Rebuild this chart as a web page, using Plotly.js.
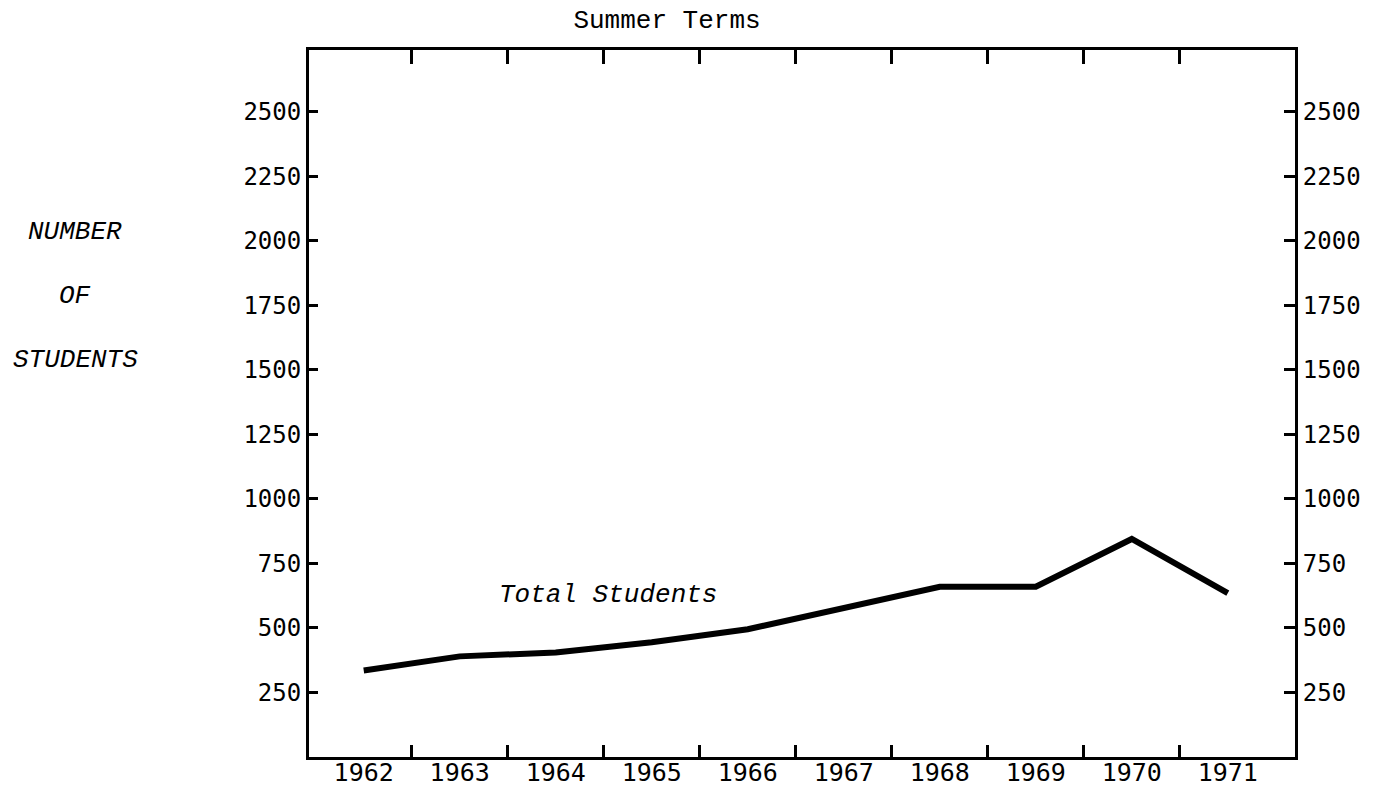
<!DOCTYPE html>
<html>
<head>
<meta charset="utf-8">
<script src="https://cdn.plot.ly/plotly-3.0.1.min.js"></script>
<style>
html,body{margin:0;padding:0;background:#fff;}
#chart{width:1377px;height:791px;}
</style>
</head>
<body>
<div id="chart"></div>
<script>
// ---- data ----
const years = [1962, 1963, 1964, 1965, 1966, 1967, 1968, 1969, 1970, 1971];
const totalStudents = [335, 390, 405, 445, 495, 575, 660, 660, 845, 635];
const yearLabels = ['1962', '1963', '1964', '1965', '1966', '1967', '1968', '1969', '1970', '1971'];
const boundaryTicks = [1962.5, 1963.5, 1964.5, 1965.5, 1966.5, 1967.5, 1968.5, 1969.5, 1970.5];
const yTickVals = [250, 500, 750, 1000, 1250, 1500, 1750, 2000, 2250, 2500];
const yTickText = ['250', '500', '750', '1000', '1250', '1500', '1750', '2000', '2250', '2500'];
const chartTitle = 'Summer Terms';
const yTitleLines = ['NUMBER', 'OF', 'STUDENTS'];
const seriesLabel = 'Total Students';

// ---- styling ----
const xRange = [1961.43, 1971.70];
const yRange = [0, 2740];
const tickFontNum = {family: 'DejaVu Sans Mono', size: 24, color: '#000'};
const typeFont = {family: 'Liberation Mono', size: 26, color: '#000'};

const traces = [
  {x: years, y: totalStudents, xaxis: 'x', yaxis: 'y', mode: 'lines',
   line: {color: '#000', width: 6}, hoverinfo: 'skip', showlegend: false},
  // helper (invisible) traces so that the overlay axes are drawn
  {x: years, y: totalStudents, xaxis: 'x2', yaxis: 'y2', mode: 'lines',
   opacity: 0, hoverinfo: 'skip', showlegend: false},
  {x: years, y: totalStudents, xaxis: 'x3', yaxis: 'y', mode: 'lines',
   opacity: 0, hoverinfo: 'skip', showlegend: false}
];

const annotations = [
  {text: '<i>' + seriesLabel + '</i>', xref: 'paper', yref: 'paper', x: 0.303, y: 0.2295,
   xanchor: 'center', yanchor: 'middle', showarrow: false,
   font: {family: 'Liberation Mono', size: 26, color: '#000'}}
];
const yTitleY = [232, 296, 360];
yTitleLines.forEach((t, i) => {
  annotations.push({text: '<i>' + t + '</i>', xref: 'paper', yref: 'paper',
    x: (75 - 309) / 986, y: (757.5 - yTitleY[i]) / 708,
    xanchor: 'center', yanchor: 'middle', showarrow: false, font: typeFont});
});

const layout = {
  width: 1377, height: 791,
  margin: {l: 309, r: 82, t: 50, b: 34, pad: 0},
  paper_bgcolor: '#fff', plot_bgcolor: '#fff',
  showlegend: false,
  title: {text: chartTitle, xref: 'container', yref: 'container',
          x: 667 / 1377, y: 1 - 19 / 791, xanchor: 'center', yanchor: 'middle',
          font: typeFont},
  xaxis: {range: xRange, tickmode: 'array', tickvals: years, ticktext: yearLabels,
          ticks: '', showline: true, linewidth: 3, linecolor: '#000',
          showgrid: false, zeroline: false, ticklabelstandoff: -9,
          tickfont: {family: 'DejaVu Sans Mono', size: 25, color: '#000'},
          anchor: 'y', side: 'bottom'},
  xaxis2: {range: xRange, overlaying: 'x', anchor: 'y', side: 'bottom',
           tickmode: 'array', tickvals: boundaryTicks, ticks: 'inside', ticklen: 12,
           tickwidth: 3, tickcolor: '#000', showticklabels: false,
           showline: false, showgrid: false, zeroline: false},
  xaxis3: {range: xRange, overlaying: 'x', anchor: 'y', side: 'top',
           tickmode: 'array', tickvals: boundaryTicks, ticks: 'inside', ticklen: 14,
           tickwidth: 3, tickcolor: '#000', showticklabels: false,
           showline: true, linewidth: 3, linecolor: '#000', showgrid: false, zeroline: false},
  yaxis: {range: yRange, tickmode: 'array', tickvals: yTickVals, ticktext: yTickText,
          ticks: 'inside', ticklen: 9, tickwidth: 3, tickcolor: '#000',
          showline: true, linewidth: 3, linecolor: '#000', showgrid: false, zeroline: false,
          tickfont: tickFontNum, anchor: 'x', side: 'left'},
  yaxis2: {range: yRange, overlaying: 'y', anchor: 'x', side: 'right',
           tickmode: 'array', tickvals: yTickVals, ticktext: yTickText,
           ticks: 'inside', ticklen: 11, tickwidth: 3, tickcolor: '#000',
           showline: true, linewidth: 3, linecolor: '#000', showgrid: false, zeroline: false,
           tickfont: tickFontNum},
  annotations: annotations
};

Plotly.newPlot('chart', traces, layout, {staticPlot: true, displayModeBar: false});
</script>
</body>
</html>
